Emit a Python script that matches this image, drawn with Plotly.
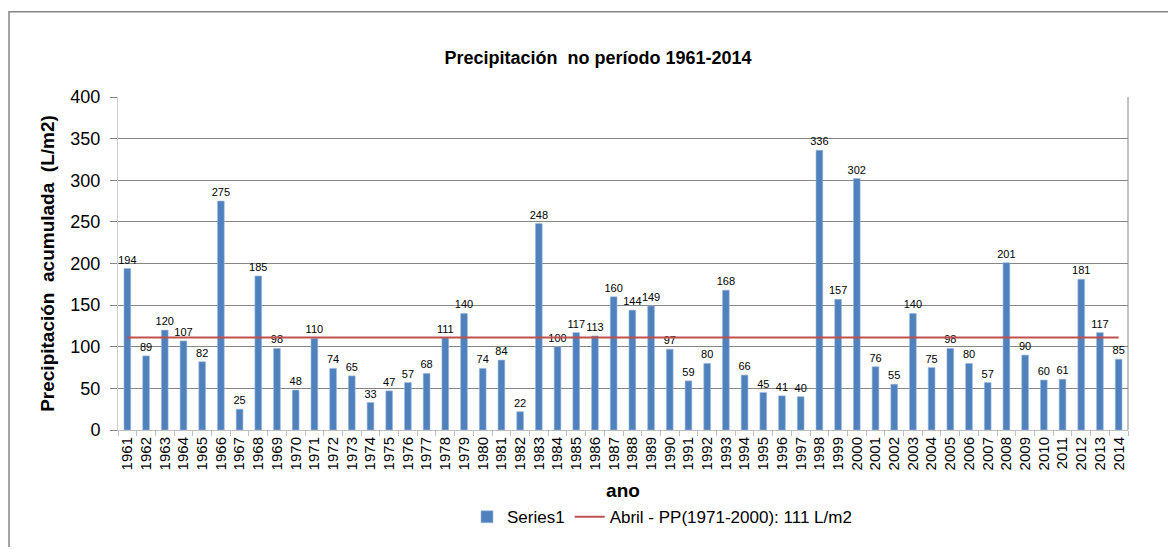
import plotly.graph_objects as go

years = [str(y) for y in range(1961, 2015)]
precip = [194, 89, 120, 107, 82, 275, 25, 185, 98, 48,
          110, 74, 65, 33, 47, 57, 68, 111, 140, 74,
          84, 22, 248, 100, 117, 113, 160, 144, 149, 97,
          59, 80, 168, 66, 45, 41, 40, 336, 157, 302,
          76, 55, 140, 75, 98, 80, 57, 201, 90, 60,
          61, 181, 117, 85]
normal_value = 111
normal_label = "Abril - PP(1971-2000): 111 L/m2"

FONT = "Liberation Sans, Arial, sans-serif"

# page has an 8px body margin, so the figure is a bit smaller than the window
W, H = 1160, 539
ML, MR, MT, MB = 110, 40, 89, 114
plot_h = H - MT - MB

fig = go.Figure()

fig.add_trace(go.Bar(
    x=years,
    y=precip,
    name="Series1",
    marker=dict(color="#4F81BD", line=dict(color="#9DB9DE", width=0.6)),
    text=[str(v) for v in precip],
    textposition="outside",
    textfont=dict(size=11, color="#000000", family=FONT),
    cliponaxis=False,
))

fig.add_trace(go.Scatter(
    x=years,
    y=[normal_value] * len(years),
    mode="lines",
    name=normal_label,
    line=dict(color="#C0504D", width=2),
))

fig.update_layout(
    width=W,
    height=H,
    margin=dict(l=ML, r=MR, t=MT, b=MB),
    paper_bgcolor="white",
    plot_bgcolor="white",
    font=dict(family=FONT, color="#000000"),
    bargap=0.64,
    uniformtext=dict(minsize=9, mode="show"),
    title=dict(
        text="<b>Precipitación  no período 1961-2014</b>",
        x=(598 - 8) / W, xref="container", xanchor="center",
        y=1 - 50 / H, yanchor="middle",
        font=dict(size=18, family=FONT),
    ),
    xaxis=dict(
        type="category",
        automargin=False,
        tickmode="array",
        tickvals=years,
        ticktext=years,
        tickangle=-90,
        tickfont=dict(size=15, family=FONT),
        ticks="outside",
        tickson="boundaries",
        ticklen=5,
        tickcolor="#BFBFBF",
        showline=True,
        linecolor="#BFBFBF",
        showgrid=False,
        title=dict(text="<b>ano</b>", font=dict(size=19, family=FONT), standoff=14),
    ),
    yaxis=dict(
        range=[0, 400],
        dtick=50,
        tickfont=dict(size=18, family=FONT),
        ticks="outside",
        ticklen=7,
        tickcolor="#868686",
        ticklabelstandoff=6,
        showgrid=True,
        gridcolor="#868686",
        gridwidth=1,
        showline=True,
        linecolor="#D0D0D0",
        zeroline=False,
        title=dict(text="<b>Precipitación  acumulada  (L/m2)</b>",
                   font=dict(size=19, family=FONT), standoff=10),
    ),
    legend=dict(
        orientation="h",
        x=(662 - 8 - ML) / (W - ML - MR), xanchor="center",
        y=-(513 - (H - MB)) / plot_h, yanchor="middle",
        font=dict(size=17, family=FONT),
        itemwidth=30,
        traceorder="normal",
    ),
    shapes=[
        # plot area right border
        dict(type="line", xref="paper", yref="paper", x0=1, x1=1, y0=0, y1=1,
             line=dict(color="#868686", width=1)),
        # outer chart frame
        dict(type="rect", xref="paper", yref="paper",
             x0=-(ML - 1) / (W - ML - MR), x1=1.2, y0=-1.0,
             y1=(H - MB - 3) / plot_h,
             line=dict(color="#868686", width=1.5), layer="below"),
    ],
)

fig.write_html("out.html")
